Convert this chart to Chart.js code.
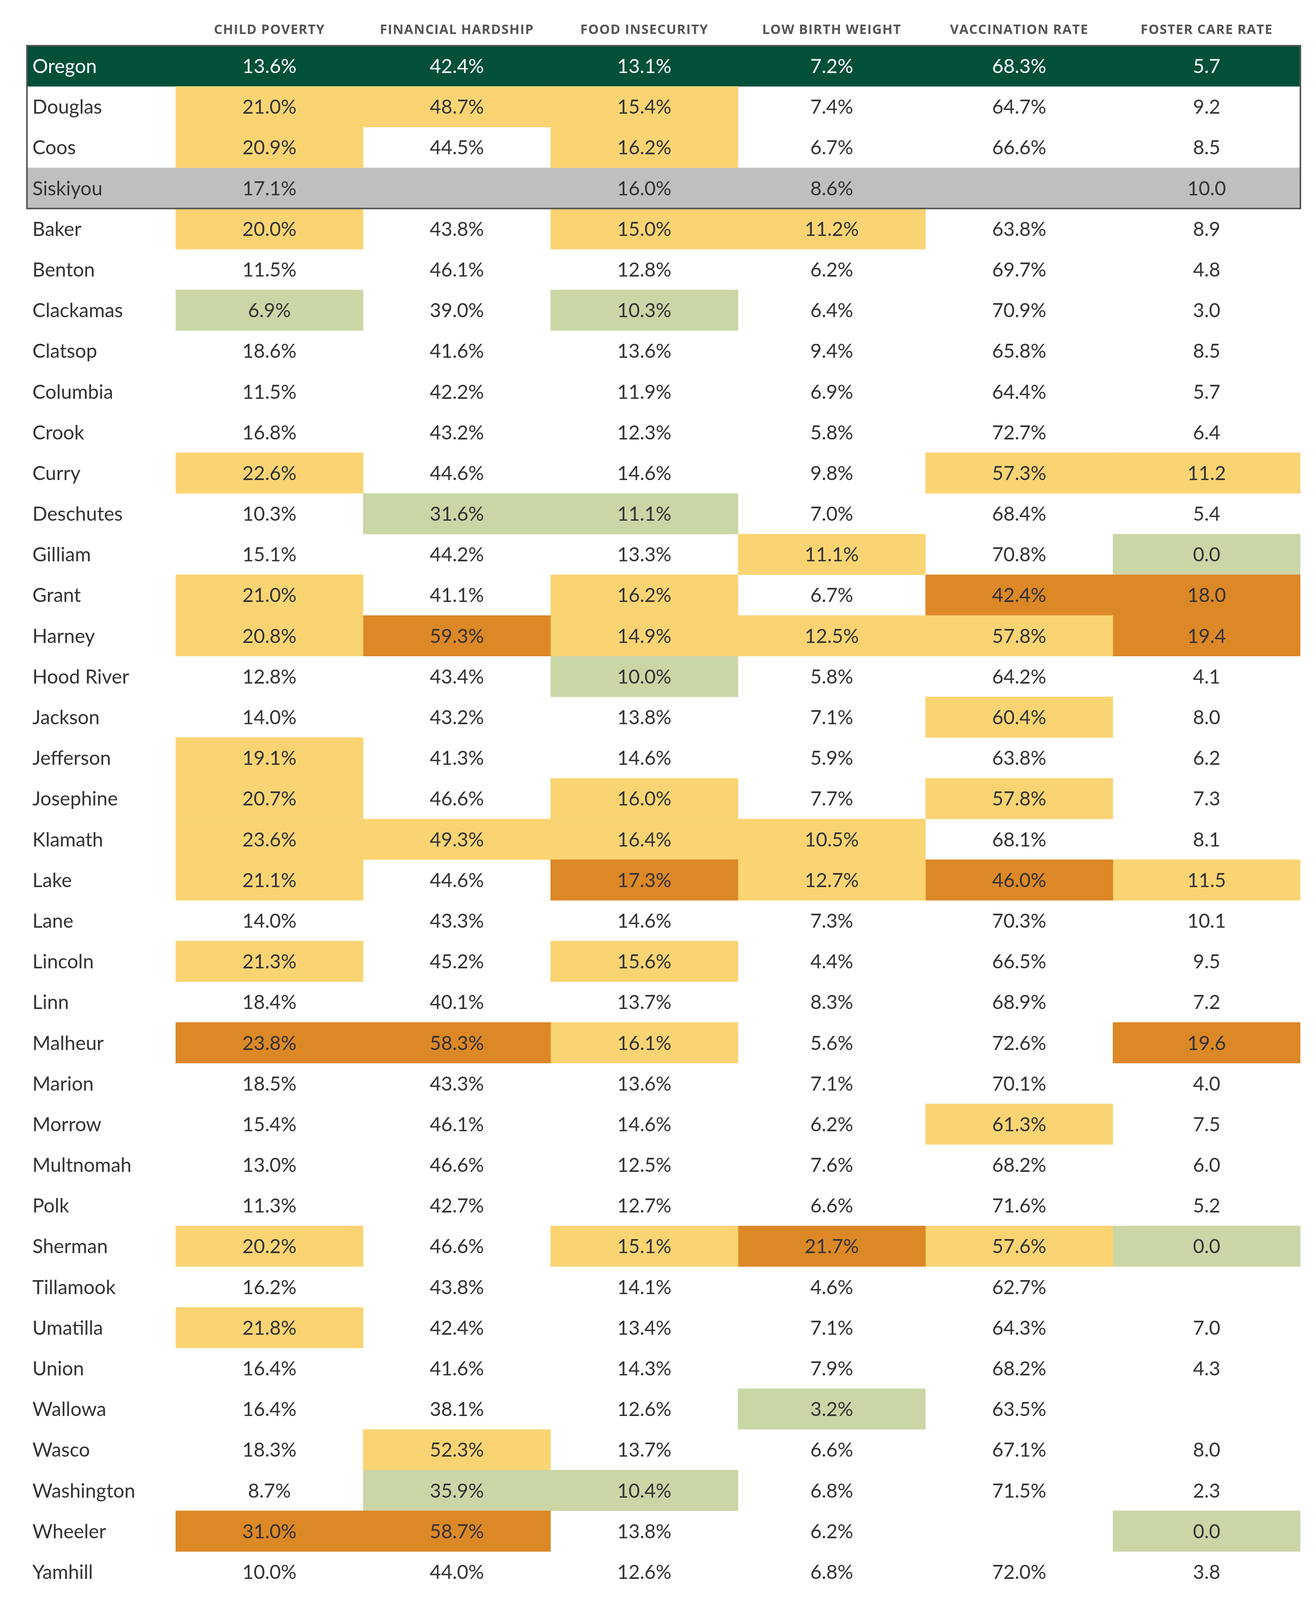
<!DOCTYPE html>
<html lang="en">
<head>
    <meta charset="UTF-8">
    <title>Oregon county indicators</title>
    <script src="https://cdn.jsdelivr.net/npm/chart.js"></script>
    <style>
        body {
            margin: 0;
            padding: 0;
            background-color: #ffffff;
        }
        #chart-container {
            width: 3370px;
            height: 4116px;
            position: relative;
        }
    </style>
</head>
<body>
    <div id="chart-container">
        <canvas id="myChart"></canvas>
    </div>

    <script>
        // Column headers
        const headers = ['CHILD POVERTY', 'FINANCIAL HARDSHIP', 'FOOD INSECURITY',
                         'LOW BIRTH WEIGHT', 'VACCINATION RATE', 'FOSTER CARE RATE'];

        const counties = ['Oregon', 'Douglas', 'Coos', 'Siskiyou', 'Baker', 'Benton', 'Clackamas',
            'Clatsop', 'Columbia', 'Crook', 'Curry', 'Deschutes', 'Gilliam', 'Grant', 'Harney',
            'Hood River', 'Jackson', 'Jefferson', 'Josephine', 'Klamath', 'Lake', 'Lane', 'Lincoln',
            'Linn', 'Malheur', 'Marion', 'Morrow', 'Multnomah', 'Polk', 'Sherman', 'Tillamook',
            'Umatilla', 'Union', 'Wallowa', 'Wasco', 'Washington', 'Wheeler', 'Yamhill'];

        // Values (null = no data)
        const childPoverty = [13.6, 21.0, 20.9, 17.1, 20.0, 11.5, 6.9, 18.6, 11.5, 16.8, 22.6, 10.3, 15.1,
            21.0, 20.8, 12.8, 14.0, 19.1, 20.7, 23.6, 21.1, 14.0, 21.3, 18.4, 23.8, 18.5, 15.4, 13.0,
            11.3, 20.2, 16.2, 21.8, 16.4, 16.4, 18.3, 8.7, 31.0, 10.0];
        const financialHardship = [42.4, 48.7, 44.5, null, 43.8, 46.1, 39.0, 41.6, 42.2, 43.2, 44.6, 31.6,
            44.2, 41.1, 59.3, 43.4, 43.2, 41.3, 46.6, 49.3, 44.6, 43.3, 45.2, 40.1, 58.3, 43.3, 46.1,
            46.6, 42.7, 46.6, 43.8, 42.4, 41.6, 38.1, 52.3, 35.9, 58.7, 44.0];
        const foodInsecurity = [13.1, 15.4, 16.2, 16.0, 15.0, 12.8, 10.3, 13.6, 11.9, 12.3, 14.6, 11.1, 13.3,
            16.2, 14.9, 10.0, 13.8, 14.6, 16.0, 16.4, 17.3, 14.6, 15.6, 13.7, 16.1, 13.6, 14.6, 12.5,
            12.7, 15.1, 14.1, 13.4, 14.3, 12.6, 13.7, 10.4, 13.8, 12.6];
        const lowBirthWeight = [7.2, 7.4, 6.7, 8.6, 11.2, 6.2, 6.4, 9.4, 6.9, 5.8, 9.8, 7.0, 11.1, 6.7, 12.5,
            5.8, 7.1, 5.9, 7.7, 10.5, 12.7, 7.3, 4.4, 8.3, 5.6, 7.1, 6.2, 7.6, 6.6, 21.7, 4.6, 7.1, 7.9,
            3.2, 6.6, 6.8, 6.2, 6.8];
        const vaccinationRate = [68.3, 64.7, 66.6, null, 63.8, 69.7, 70.9, 65.8, 64.4, 72.7, 57.3, 68.4,
            70.8, 42.4, 57.8, 64.2, 60.4, 63.8, 57.8, 68.1, 46.0, 70.3, 66.5, 68.9, 72.6, 70.1, 61.3,
            68.2, 71.6, 57.6, 62.7, 64.3, 68.2, 63.5, 67.1, 71.5, null, 72.0];
        const fosterCareRate = [5.7, 9.2, 8.5, 10.0, 8.9, 4.8, 3.0, 8.5, 5.7, 6.4, 11.2, 5.4, 0.0, 18.0, 19.4,
            4.1, 8.0, 6.2, 7.3, 8.1, 11.5, 10.1, 9.5, 7.2, 19.6, 4.0, 7.5, 6.0, 5.2, 0.0, null, 7.0, 4.3,
            null, 8.0, 2.3, 0.0, 3.8];

        // Highlight class per cell: '' none, 'y' yellow, 'o' orange, 'g' green
        const childPovertyHi = ['', 'y', 'y', '', 'y', '', 'g', '', '', '', 'y', '', '', 'y', 'y', '', '',
            'y', 'y', 'y', 'y', '', 'y', '', 'o', '', '', '', '', 'y', '', 'y', '', '', '', '', 'o', ''];
        const financialHardshipHi = ['', 'y', '', '', '', '', '', '', '', '', '', 'g', '', '', 'o', '', '',
            '', '', 'y', '', '', '', '', 'o', '', '', '', '', '', '', '', '', '', 'y', 'g', 'o', ''];
        const foodInsecurityHi = ['', 'y', 'y', '', 'y', '', 'g', '', '', '', '', 'g', '', 'y', 'y', 'g', '',
            '', 'y', 'y', 'o', '', 'y', '', 'y', '', '', '', '', 'y', '', '', '', '', '', 'g', '', ''];
        const lowBirthWeightHi = ['', '', '', '', 'y', '', '', '', '', '', '', '', 'y', '', 'y', '', '',
            '', '', 'y', 'y', '', '', '', '', '', '', '', '', 'o', '', '', '', 'g', '', '', '', ''];
        const vaccinationRateHi = ['', '', '', '', '', '', '', '', '', '', 'y', '', '', 'o', 'y', '', 'y',
            '', 'y', '', 'o', '', '', '', '', '', 'y', '', '', 'y', '', '', '', '', '', '', '', ''];
        const fosterCareRateHi = ['', '', '', '', '', '', '', '', '', '', 'y', '', 'g', 'o', 'o', '', '',
            '', '', '', 'y', '', '', '', 'o', '', '', '', '', 'g', '', '', '', '', '', '', 'g', ''];

        // Whole-row shading: state row and comparison county
        const rowShade = ['state', '', '', 'compare'];

        const columnValues = [childPoverty, financialHardship, foodInsecurity,
                              lowBirthWeight, vaccinationRate, fosterCareRate];
        const columnHi = [childPovertyHi, financialHardshipHi, foodInsecurityHi,
                          lowBirthWeightHi, vaccinationRateHi, fosterCareRateHi];
        const columnSuffix = ['%', '%', '%', '%', '%', ''];

        const palette = { '': 'rgba(0,0,0,0)', y: '#fad473', o: '#dc8827', g: '#cbd6a7' };
        const shadePalette = { '': 'rgba(0,0,0,0)', state: '#02503a', compare: '#bebfc1' };

        // Name column is 381px wide against 480px data columns
        const nameCol = -381 / 480;

        // Headers are letter-spaced a little
        const headerSpacing = {
            id: 'headerSpacing',
            beforeDraw(chart) {
                chart.ctx.letterSpacing = '1.5px';
            }
        };

        // Draw the value texts, county names and the outline round the top rows
        const tableText = {
            id: 'tableText',
            afterDatasetsDraw(chart) {
                const ctx = chart.ctx;
                const area = chart.chartArea;
                const yScale = chart.scales.y;
                const rowH = (area.bottom - area.top) / counties.length;
                ctx.save();
                ctx.letterSpacing = '0px';
                ctx.font = '50px Lato';
                ctx.textBaseline = 'alphabetic';

                counties.forEach((name, i) => {
                    const cy = yScale.getPixelForValue(i);
                    ctx.fillStyle = rowShade[i] === 'state' ? '#ffffff' : '#333333';
                    ctx.textAlign = 'left';
                    ctx.fillText(name, area.left + 14, cy + 18);
                });

                columnValues.forEach((vals, c) => {
                    const meta = chart.getDatasetMeta(c + 1);
                    vals.forEach((v, i) => {
                        if (v === null) return;
                        const el = meta.data[i];
                        const cx = (el.x + el.base) / 2;
                        ctx.fillStyle = rowShade[i] === 'state' ? '#ffffff' : '#333333';
                        ctx.textAlign = 'center';
                        ctx.fillText(v.toFixed(1) + columnSuffix[c], cx, el.y + 18);
                    });
                });

                const top = yScale.getPixelForValue(0) - rowH / 2;
                const bottom = yScale.getPixelForValue(3) + rowH / 2;
                ctx.strokeStyle = '#555555';
                ctx.lineWidth = 4;
                ctx.strokeRect(area.left, top, area.right - area.left, bottom - top);
                ctx.restore();
            }
        };

        function initChart() {
            const datasets = [{
                label: 'rows',
                data: counties.map(() => [nameCol, 6]),
                backgroundColor: counties.map((_, i) => shadePalette[rowShade[i] || '']),
                order: 2
            }];
            headers.forEach((h, c) => {
                datasets.push({
                    label: h,
                    data: counties.map(() => [c, c + 1]),
                    backgroundColor: columnHi[c].map(k => palette[k]),
                    order: 1
                });
            });

            const ctx = document.getElementById('myChart').getContext('2d');
            new Chart(ctx, {
                type: 'bar',
                data: { labels: counties, datasets: datasets },
                plugins: [headerSpacing, tableText],
                options: {
                    indexAxis: 'y',
                    responsive: true,
                    maintainAspectRatio: false,
                    animation: false,
                    layout: { padding: { left: 69, right: 40, top: 0, bottom: 40 } },
                    datasets: {
                        bar: {
                            grouped: false,
                            barPercentage: 1,
                            categoryPercentage: 1,
                            borderWidth: 0
                        }
                    },
                    scales: {
                        x: {
                            type: 'linear',
                            position: 'top',
                            min: nameCol,
                            max: 6,
                            grid: { display: false, drawTicks: false },
                            border: { display: false },
                            afterBuildTicks(scale) {
                                scale.ticks = headers.map((_, i) => ({ value: i + 0.5 }));
                            },
                            afterFit(scale) {
                                scale.height = 117;
                            },
                            ticks: {
                                autoSkip: false,
                                maxRotation: 0,
                                padding: 19,
                                color: '#555555',
                                font: { family: "'Open Sans'", size: 34, weight: 'bold' },
                                callback: (v) => headers[Math.floor(v)]
                            }
                        },
                        y: {
                            type: 'category',
                            display: false,
                            offset: true,
                            grid: { display: false }
                        }
                    },
                    plugins: {
                        legend: { display: false },
                        tooltip: { enabled: false }
                    }
                }
            });
        }

        window.onload = initChart;
    </script>
</body>
</html>
